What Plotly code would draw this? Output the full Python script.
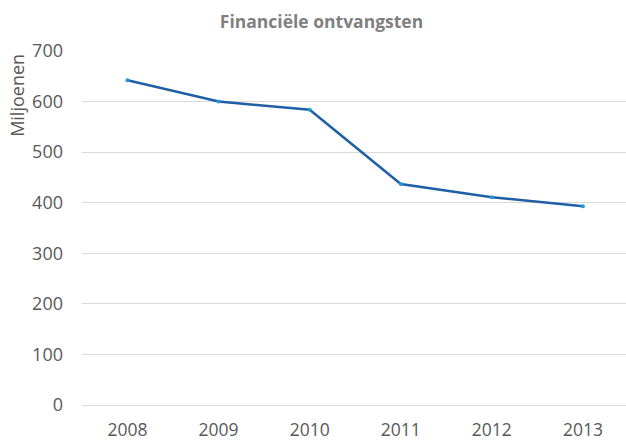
import plotly.graph_objects as go

years = ["2008", "2009", "2010", "2011", "2012", "2013"]
values = [642, 600, 584, 437, 411, 393]
y_ticks = [0, 100, 200, 300, 400, 500, 600, 700]

W, H = 626, 441
L, R, T, B = 82, 0, 50.5, 35.5
PW, PH = W - L - R, H - T - B

fig = go.Figure()
fig.add_trace(go.Scatter(
    x=years, y=values, mode="lines+markers",
    line=dict(color="#1F5FA6", width=2.5),
    marker=dict(color="#1E9BD7", size=4),
    hoverinfo="x+y", showlegend=False,
))

fig.update_layout(
    width=W, height=H,
    margin=dict(l=L, r=R, t=T, b=B, pad=0, autoexpand=False),
    paper_bgcolor="white", plot_bgcolor="white",
    font=dict(family="Open Sans", color="#595959", size=18),
    title=dict(text="<b>Financiële ontvangsten</b>", x=321.5 / W, xanchor="center",
               y=1 - 22 / H, yanchor="middle", automargin=False,
               font=dict(family="Open Sans", size=17.5, color="#808080")),
    xaxis=dict(type="category", range=[-0.5, 5.473], showgrid=False,
               showline=False, zeroline=False, ticks="", automargin=False,
               ticklabelstandoff=12, tickfont=dict(size=17.5, color="#595959")),
    yaxis=dict(range=[0, 700], tickvals=y_ticks, showgrid=True,
               gridcolor="#D9D9D9", gridwidth=1, zeroline=True,
               zerolinecolor="#D9D9D9", zerolinewidth=1, showline=False,
               ticks="", ticklabelstandoff=18, automargin=False,
               tickfont=dict(size=18, color="#595959")),
    annotations=[dict(text="Miljoenen", textangle=-90, xref="paper", yref="paper",
                      x=(17 - L) / PW, y=(H - B - 95.5) / PH,
                      xanchor="center", yanchor="middle", showarrow=False,
                      font=dict(family="Open Sans", size=18, color="#595959"))],
)

fig.write_html("out.html", config={"displayModeBar": False},
               post_script="document.body.style.margin='0';")
